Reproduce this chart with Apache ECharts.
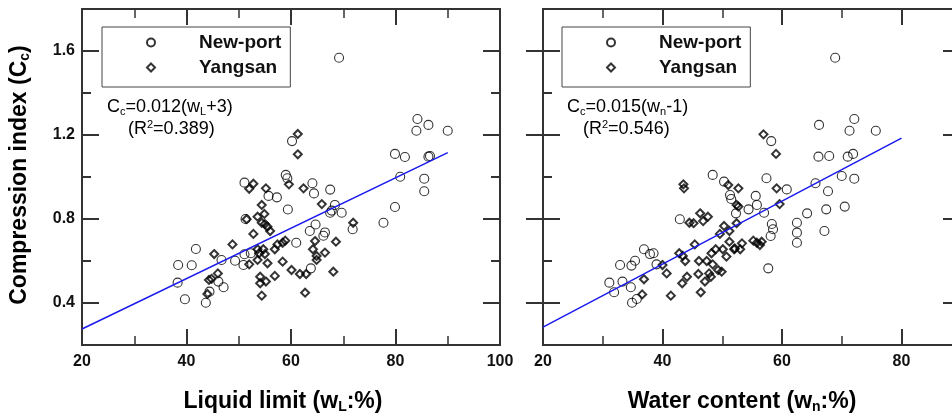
<!DOCTYPE html>
<html>
<head>
<meta charset="utf-8">
<script src="https://cdn.jsdelivr.net/npm/echarts@6/dist/echarts.min.js"></script>
<style>
  html, body { margin: 0; padding: 0; background: #fff; }
  #chart { width: 952px; height: 416px; }
</style>
</head>
<body>
<div id="chart"></div>
<script>
  // tick values
  const xMajorTicks = [20, 40, 60, 80, 100];
  const wnLabelTicks = [20, 40, 60, 80];
  const yMajorTicks = [0.4, 0.8, 1.2, 1.6];
  const yMinorTicks = [0.6, 1.0, 1.4];

  // liquid limit panel: [wL, Cc]
  const llNewport = [[38.3,0.497],[38.4,0.581],[39.7,0.418],[41.0,0.580],[41.8,0.657],[43.7,0.401],[44.4,0.454],[46.1,0.502],
    [46.7,0.605],[47.1,0.475],[49.3,0.601],[50.9,0.581],[51.1,0.632],[51.3,0.800],[52.3,0.637],[51.1,0.973],[55.7,0.910],
    [57.3,0.903],[59.0,1.010],[59.3,0.994],[59.4,0.845],[60.2,1.171],[61.0,0.687],[63.6,0.743],[63.8,0.565],[64.1,0.970],
    [64.4,0.922],[64.7,0.774],[66.2,0.720],[66.5,0.736],[67.5,0.940],[67.5,0.830],[67.8,0.840],[68.4,0.867],[69.2,1.568],
    [69.7,0.830],[71.8,0.751],[77.7,0.782],[79.9,1.110],[79.9,0.857],[80.9,1.001],[81.8,1.095],[84.0,1.220],[84.2,1.276],
    [85.5,0.992],[85.5,0.932],[86.3,1.248],[86.3,1.097],[86.6,1.100],[90.0,1.220]];
  const llYangsan = [[44.0,0.443],[44.3,0.510],[44.8,0.515],[45.3,0.633],[46.0,0.541],[48.8,0.679],[51.5,0.799],[52.0,0.584],
    [52.0,0.944],[52.8,0.968],[52.8,0.729],[53.6,0.811],[53.6,0.656],[53.6,0.605],[53.9,0.637],[54.1,0.525],[54.1,0.494],
    [54.4,0.867],[54.4,0.782],[54.4,0.435],[54.7,0.656],[54.9,0.824],[55.0,0.776],[55.0,0.633],[55.2,0.946],[55.2,0.502],
    [55.5,0.763],[55.5,0.589],[56.0,0.743],[56.9,0.656],[56.9,0.529],[57.4,0.679],[58.4,0.687],[58.4,0.597],[58.9,0.697],
    [59.6,0.965],[60.1,0.557],[61.3,1.205],[61.3,1.108],[61.7,0.538],[62.4,0.946],[62.7,0.449],[62.9,0.538],[64.2,0.656],
    [64.6,0.695],[64.9,0.624],[64.9,0.605],[65.9,0.871],[66.5,0.640],[68.1,0.549],[68.6,0.692],[71.9,0.782]];
  const llFit = [[20, 0.276], [90, 1.116]];

  // water content panel: [wn, Cc]
  const wnNewport = [[31.1,0.497],[31.9,0.451],[32.9,0.581],[33.3,0.502],[34.7,0.475],[34.8,0.578],[35.4,0.601],[34.9,0.401],
    [35.7,0.419],[36.9,0.656],[37.9,0.633],[38.5,0.637],[39.0,0.584],[42.9,0.799],[48.4,1.010],[50.3,0.978],[51.3,0.914],
    [51.5,0.895],[52.3,0.827],[54.4,0.846],[55.6,0.910],[55.8,0.867],[57.0,0.830],[57.4,0.994],[57.7,0.565],[58.1,0.719],
    [58.2,1.171],[58.3,0.776],[58.5,0.751],[60.8,0.941],[62.5,0.782],[62.5,0.735],[62.5,0.687],[64.2,0.827],[65.6,0.970],
    [66.1,1.097],[66.2,1.248],[67.1,0.743],[67.4,0.846],[67.7,0.932],[67.9,1.100],[68.9,1.568],[70.0,1.005],[70.5,0.859],
    [71.0,1.097],[71.3,1.220],[71.9,1.110],[72.1,1.276],[72.1,0.992],[75.7,1.220]];
  const wnYangsan = [[36.6,0.441],[36.9,0.513],[40.0,0.581],[40.7,0.541],[41.4,0.435],[42.8,0.637],[43.4,0.624],[43.8,0.600],
    [43.3,0.494],[44.1,0.525],[43.5,0.965],[43.6,0.946],[44.5,0.782],[45.2,0.780],[45.4,0.679],[46.1,0.600],[46.0,0.538],
    [46.4,0.451],[46.3,0.827],[46.8,0.790],[47.6,0.811],[47.1,0.502],[47.4,0.600],[47.8,0.541],[48.1,0.525],[48.4,0.584],
    [48.2,0.637],[48.9,0.656],[49.3,0.557],[49.9,0.549],[49.6,0.729],[50.3,0.767],[50.7,0.621],[50.1,0.656],[51.2,0.692],
    [51.2,0.743],[51.0,0.962],[52.0,0.656],[52.1,0.660],[52.4,0.780],[52.4,0.867],[52.7,0.946],[52.7,0.859],[53.0,0.656],
    [53.3,0.684],[55.2,0.697],[55.8,0.687],[56.3,0.676],[56.6,0.692],[56.9,1.203],[59.0,1.110],[59.1,0.946],[59.6,0.871]];
  const wnFit = [[20, 0.285], [80, 1.185]];

  const FONT = 'Arial, "Liberation Sans", sans-serif';
  const AXIS = '#333';

  let chart = echarts.init(document.getElementById('chart'));

  function xAx(grid, pos, labels) {
    return {
      type: 'value', gridIndex: grid, position: pos, min: 20, max: 100, interval: 20,
      axisLine: { lineStyle: { color: AXIS, width: 2 } },
      axisTick: { inside: true, length: 16, customValues: xMajorTicks, lineStyle: { color: AXIS, width: 2 } },
      minorTick: { show: true, splitNumber: 2, length: 9, lineStyle: { color: AXIS, width: 1.5 } },
      axisLabel: { show: !!labels, customValues: labels || xMajorTicks, margin: 9, color: '#111',
        fontFamily: FONT, fontWeight: 'bold', fontSize: 16 },
      splitLine: { show: false }
    };
  }
  function yAx(grid, pos, ticks, len, inside, labels) {
    return {
      type: 'value', gridIndex: grid, position: pos, min: 0.2, max: 1.8,
      axisLine: { lineStyle: { color: AXIS, width: 2 } },
      axisTick: { inside: inside, length: len, customValues: ticks, lineStyle: { color: AXIS, width: 2 } },
      axisLabel: { show: labels, customValues: ticks, margin: 7, color: '#111', fontFamily: FONT, fontWeight: 'bold', fontSize: 16,
        formatter: v => v.toFixed(1) },
      splitLine: { show: false }
    };
  }
  function scatter(name, x, y, data) {
    const ring = name === 'New-port';
    return {
      name: name, type: 'scatter', xAxisIndex: x, yAxisIndex: y, data: data,
      symbol: ring ? 'circle' : 'diamond', symbolSize: ring ? 9 : 8,
      itemStyle: { color: 'rgba(0,0,0,0)', borderColor: '#000', borderWidth: ring ? 1.1 : 2 }
    };
  }
  function fit(x, y, data) {
    return {
      type: 'line', xAxisIndex: x, yAxisIndex: y, data: data, symbol: 'none', silent: true,
      lineStyle: { color: '#1a1aee', width: 1.5 }
    };
  }
  function legend(left) {
    return {
      left: left, top: 27, orient: 'vertical', selectedMode: false,
      data: [{ name: 'New-port', icon: 'circle' }, { name: 'Yangsan', icon: 'diamond' }],
      itemWidth: 8, itemHeight: 8, itemGap: 4, padding: [5, 9, 9, 44],
      borderColor: '#444', borderWidth: 1,
      textStyle: { fontFamily: FONT, fontWeight: 'bold', fontSize: 19, lineHeight: 21, color: '#111', padding: [0, 0, 0, 39] }
    };
  }
  const titleRich = {
    b: { fontFamily: FONT, fontWeight: 'bold', fontSize: 23, color: '#111' },
    s: { fontFamily: FONT, fontWeight: 'bold', fontSize: 14, color: '#111', padding: [10, 0, 0, 0] }
  };
  const eqRich = {
    t: { fontFamily: FONT, fontSize: 18, color: '#333' },
    s: { fontFamily: FONT, fontSize: 11, color: '#333', padding: [9, 0, 0, 0] },
    p: { fontFamily: FONT, fontSize: 11, color: '#333', padding: [0, 0, 8, 0] }
  };
  function label(x, y, text, rich, align, rot) {
    return {
      type: 'text', x: x, y: y, rotation: rot || 0,
      style: { text: text, rich: rich, align: align, verticalAlign: 'middle' }
    };
  }

  chart.setOption({
    animation: false,
    grid: [
      { left: 82, top: 9, width: 418, height: 336, outerBoundsMode: 'none' },
      { left: 543, top: 9, width: 478, height: 336, outerBoundsMode: 'none' },
      { left: 960, top: 9, width: 100, height: 336, outerBoundsMode: 'none' }
    ],
    xAxis: [
      xAx(0, 'bottom', xMajorTicks), xAx(0, 'top', null),
      xAx(1, 'bottom', wnLabelTicks), xAx(1, 'top', null),
      { type: 'value', gridIndex: 2, show: false, min: 0, max: 1 }
    ],
    yAxis: [
      yAx(0, 'left', yMajorTicks, 17, true, true), yAx(0, 'left', yMinorTicks, 9, true, false),
      yAx(0, 'right', yMajorTicks, 17, true, false), yAx(0, 'right', yMinorTicks, 9, true, false),
      yAx(1, 'left', yMajorTicks, 17, true, false), yAx(1, 'left', yMajorTicks, 17, false, false),
      yAx(1, 'left', yMinorTicks, 9, true, false),
      Object.assign(yAx(2, 'left', yMajorTicks, 17, false, false), { axisLine: { show: false } })
    ],
    legend: [legend(102), legend(562)],
    series: [
      scatter('New-port', 0, 0, llNewport),
      scatter('Yangsan', 0, 0, llYangsan),
      fit(0, 0, llFit),
      scatter('New-port', 2, 4, wnNewport),
      scatter('Yangsan', 2, 4, wnYangsan),
      fit(2, 4, wnFit)
    ],
    graphic: [
      label(20, 175, '{b|Compression index (C}{s|c}{b|)}', titleRich, 'center', Math.PI / 2),
      label(283, 402, '{b|Liquid limit (w}{s|L}{b|:%)}', titleRich, 'center'),
      label(742, 402, '{b|Water content (w}{s|n}{b|:%)}', titleRich, 'center'),
      label(107, 107, '{t|C}{s|c}{t|=0.012(w}{s|L}{t|+3)}', eqRich, 'left'),
      label(128, 129, '{t|(R}{p|2}{t|=0.389)}', eqRich, 'left'),
      label(567, 107, '{t|C}{s|c}{t|=0.015(w}{s|n}{t|-1)}', eqRich, 'left'),
      label(583, 129, '{t|(R}{p|2}{t|=0.546)}', eqRich, 'left')
    ]
  });
</script>
</body>
</html>
